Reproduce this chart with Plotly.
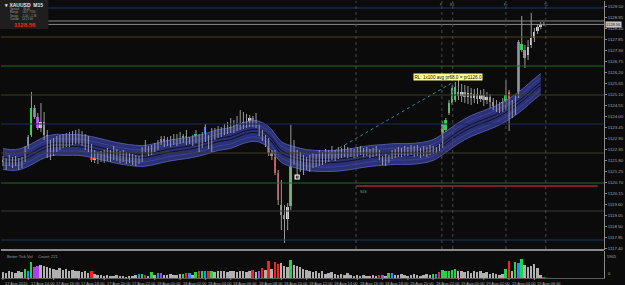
import plotly.graph_objects as go

# ---------------- data ----------------
bar_open = [1121.80,1121.70,1121.60,1121.80,1121.65,1121.75,1121.55,1121.80,1122.45,1123.05,
            1124.40,1123.95,1123.40,1123.70,1123.05,1122.55,1122.30,1122.70,1122.50,1122.80,
            1122.65,1122.90,1122.70,1122.95,1122.80,1123.00,1122.85,1122.65,1122.50,1121.80,
            1122.00,1121.85,1122.05,1121.90,1122.10,1121.95,1122.15,1122.00,1121.90,1122.05,
            1121.85,1121.95,1121.80,1121.90,1121.75,1122.50,1122.30,1122.15,1122.45,1122.40,
            1122.65,1122.85,1122.65,1122.80,1122.70,1122.85,1122.75,1122.80,1123.00,1122.70,
            1122.85,1122.75,1123.00,1122.50,1122.80,1122.95,1122.30,1123.20,1123.05,1123.25,
            1123.15,1123.35,1123.25,1123.45,1123.35,1123.60,1123.45,1123.70,1123.55,1123.90,
            1123.55,1123.50,1123.15,1122.85,1122.80,1122.15,1121.95,1121.15,1119.55,1119.05,
            1118.85,1119.50,1122.35,1121.90,1121.55,1121.80,1121.45,1121.70,1121.55,1121.80,
            1121.65,1121.90,1121.75,1122.00,1121.90,1122.10,1121.95,1122.15,1122.05,1122.25,
            1122.10,1122.20,1122.05,1122.15,1122.25,1122.10,1122.20,1122.05,1122.15,1122.25,
            1121.90,1121.70,1121.75,1121.95,1122.20,1122.05,1122.20,1122.10,1122.25,1122.15,
            1122.30,1122.15,1122.25,1122.10,1122.25,1122.15,1122.20,1122.30,1122.50,1122.55,
            1123.30,1124.15,1124.65,1124.80,1125.20,1125.00,1125.20,1124.95,1125.15,1124.90,
            1125.10,1124.85,1125.05,1124.80,1124.95,1124.70,1124.50,1124.30,1124.50,1124.65,
            1125.20,1124.30,1124.15,1125.00,1127.30,1127.30,1127.05,1127.55,1127.90,1128.25,
            1128.45,1128.60]
bar_high = [1122.00,1121.90,1122.05,1121.95,1122.00,1121.90,1121.95,1122.50,1123.05,1125.20,
            1124.55,1124.15,1124.65,1124.20,1123.30,1122.80,1122.90,1123.00,1123.05,1123.10,
            1123.15,1123.20,1123.25,1123.30,1123.35,1123.25,1123.10,1123.00,1122.60,1122.30,
            1122.20,1122.25,1122.30,1122.40,1122.30,1122.50,1122.35,1122.25,1122.30,1122.20,
            1122.15,1122.10,1122.05,1122.00,1122.45,1122.80,1122.50,1122.55,1122.65,1122.80,
            1123.00,1123.00,1122.95,1123.00,1123.10,1123.10,1123.20,1123.10,1123.30,1122.95,
            1123.05,1123.30,1123.10,1123.20,1123.60,1123.05,1123.40,1123.40,1123.50,1123.45,
            1123.60,1123.70,1123.90,1123.80,1124.00,1124.30,1124.20,1124.10,1124.05,1124.00,
            1124.15,1123.60,1123.30,1123.05,1122.90,1122.30,1122.30,1121.30,1120.80,1119.55,
            1119.65,1123.55,1122.80,1122.30,1122.20,1122.05,1121.95,1122.05,1122.15,1122.10,
            1122.30,1122.20,1122.35,1122.30,1122.50,1122.30,1122.45,1122.40,1122.55,1122.45,
            1122.40,1122.35,1122.45,1122.50,1122.40,1122.45,1122.35,1122.40,1122.50,1122.30,
            1122.00,1122.10,1122.05,1122.30,1122.35,1122.45,1122.40,1122.50,1122.45,1122.55,
            1122.50,1122.55,1122.40,1122.50,1122.45,1122.55,1122.50,1122.45,1122.60,1123.75,
            1123.90,1124.80,1125.55,1125.70,1125.80,1125.60,1125.55,1125.50,1125.40,1125.35,
            1125.40,1125.30,1125.35,1125.20,1125.10,1124.90,1124.80,1124.70,1124.90,1125.80,
            1125.30,1124.80,1125.05,1127.80,1129.00,1127.55,1127.80,1129.15,1128.40,1128.60,
            1128.70,1128.70]
bar_low = [1121.50,1121.30,1121.50,1121.40,1121.50,1121.30,1121.40,1121.70,1122.35,1122.95,
           1123.85,1123.30,1123.20,1122.80,1121.90,1121.80,1122.00,1122.20,1122.30,1122.40,
           1122.45,1122.45,1122.55,1122.60,1122.60,1122.50,1122.30,1122.20,1121.70,1121.65,
           1121.60,1121.70,1121.65,1121.75,1121.70,1121.80,1121.75,1121.65,1121.70,1121.60,
           1121.65,1121.55,1121.50,1121.60,1121.70,1122.20,1122.00,1122.05,1122.20,1122.30,
           1122.55,1122.45,1122.50,1122.45,1122.55,1122.50,1122.60,1122.65,1122.55,1122.60,
           1122.50,1122.65,1122.20,1122.40,1122.70,1122.35,1122.20,1122.80,1122.90,1122.95,
           1123.05,1123.10,1123.15,1123.15,1123.25,1123.30,1123.35,1123.40,1123.45,1123.45,
           1123.40,1123.00,1122.75,1122.45,1122.00,1121.80,1121.05,1119.55,1118.30,1117.65,
           1118.30,1119.30,1121.55,1120.90,1121.20,1121.05,1121.30,1121.20,1121.40,1121.45,
           1121.50,1121.55,1121.65,1121.70,1121.80,1121.75,1121.85,1121.90,1121.95,1121.90,
           1121.95,1121.90,1121.95,1122.05,1121.95,1122.00,1121.90,1121.95,1122.00,1121.80,
           1121.55,1121.50,1121.65,1121.85,1121.90,1121.95,1121.95,1122.00,1122.00,1122.05,
           1121.95,1122.00,1121.90,1122.00,1121.95,1122.05,1122.10,1122.15,1122.25,1122.40,
           1123.20,1124.05,1124.55,1124.70,1124.80,1124.70,1124.65,1124.60,1124.55,1124.65,
           1124.60,1124.70,1124.50,1124.60,1124.40,1124.30,1124.20,1124.15,1124.20,1124.30,
           1123.25,1123.90,1124.05,1124.90,1127.20,1126.40,1126.80,1127.40,1127.70,1128.10,
           1128.35,1128.50]
bar_close = [1121.70,1121.60,1121.80,1121.65,1121.75,1121.55,1121.80,1122.40,1122.95,1124.40,
             1123.95,1123.40,1123.70,1123.05,1122.55,1122.30,1122.70,1122.50,1122.80,1122.65,
             1122.90,1122.70,1122.95,1122.80,1123.00,1122.85,1122.65,1122.50,1121.80,1122.00,
             1121.85,1122.05,1121.90,1122.10,1121.95,1122.15,1122.00,1121.90,1122.05,1121.85,
             1121.95,1121.80,1121.90,1121.75,1122.40,1122.30,1122.20,1122.45,1122.35,1122.65,
             1122.85,1122.65,1122.80,1122.70,1122.85,1122.75,1122.90,1123.00,1122.70,1122.85,
             1122.75,1123.10,1122.35,1123.00,1123.45,1122.45,1123.20,1123.05,1123.25,1123.15,
             1123.35,1123.25,1123.45,1123.35,1123.60,1123.45,1123.70,1123.55,1123.90,1123.55,
             1123.70,1123.15,1122.90,1122.70,1122.15,1122.00,1121.15,1119.80,1119.05,1118.85,
             1119.45,1122.35,1121.90,1121.55,1121.80,1121.45,1121.70,1121.55,1121.80,1121.65,
             1121.90,1121.75,1122.00,1121.90,1122.10,1121.95,1122.15,1122.05,1122.25,1122.10,
             1122.20,1122.05,1122.15,1122.25,1122.10,1122.20,1122.05,1122.15,1122.25,1121.90,
             1121.70,1121.85,1121.95,1122.20,1122.05,1122.20,1122.10,1122.25,1122.15,1122.30,
             1122.15,1122.25,1122.10,1122.25,1122.15,1122.30,1122.35,1122.40,1122.35,1123.60,
             1123.80,1124.65,1125.40,1125.45,1125.00,1125.20,1124.95,1125.15,1124.90,1125.10,
             1124.85,1125.05,1124.80,1124.95,1124.70,1124.50,1124.30,1124.50,1124.70,1125.05,
             1124.15,1124.60,1124.95,1127.70,1127.60,1126.90,1127.45,1127.90,1128.20,1128.45,
             1128.55,1128.56]
# g = green, r = red, b = blue, m = magenta, n = ordinary bar
bar_kind = ("nnnnnnngbg" "mmnnnnnnnn" "nnnnnnnnrn" "nnnnnnnnnn" "nnnbgrngnb"
            "mnnnnnngrb" "ngrgbrgnnn" "nnnnnnnnnr" "nmrnrnrrnn" "ngnnnnnnnn"
            "nnnnnnnnnn" "nnnnnnnnnr" "mngbnnnnnn" "nnnnnngbrg" "ggggnnnnnn"
            "nnnnnnnnng" "rngbgnnnnn" "nr")
tick_volume = [1220,1020,1430,1220,1020,1430,1220,2040,1630,3470,2450,2650,
               2860,2650,2450,2240,2040,1840,2240,1840,2040,1630,1840,1430,1630,1220,1430,1020,
               1430,
               820,610,610,410,610,410,410,610,410,410,200,410,410,610,
               820,820,610,410,1220,610,1020,1020,610,610,820,610,610,820,820,1020,1020,610,1220,1630,1630,1430,1630,1430,
               1220,1430,1630,1430,1220,1630,1430,1220,1630,1430,1220,1430,1840,1220,1630,2240,1840,
               3670,2040,3470,3060,3260,2650,2450,3880,2860,2650,2450,2040,1840,1430,1220,1630,
               1020,1430,820,1020,1220,820,610,820,610,1020,610,410,610,410,610,410,410,610,410,610,
               610,410,1020,1020,610,610,820,610,410,610,820,610,410,610,820,610,
               820,820,1220,1840,1430,1630,1840,2040,1430,
               1630,1220,1430,1020,1630,1220,1430,1020,1220,820,1020,820,610,820,
               2040,3670,1430,3470,3260,4080,2860,2450,2650,3060,2240,610,200]
volume_max = 5905
volume_label = "Better Tick Vol     Count: 221"

band_bars = [0,4,8,12,16,20,24,28,32,36,40,44,48,52,56,60,64,68,72,76,80,84,88,92,96,100,
             104,108,112,116,120,124,128,132,136,140,144,148,152,156,160,164,168,170]
band_mid = [1121.85,1121.80,1122.00,1122.35,1122.55,1122.55,1122.55,1122.45,1122.30,1122.15,
            1122.05,1122.00,1122.10,1122.25,1122.35,1122.45,1122.60,1122.80,1122.90,1123.15,
            1123.25,1122.95,1122.20,1121.95,1121.80,1121.75,1121.75,1121.80,1121.90,1122.00,
            1122.05,1122.10,1122.10,1122.15,1122.30,1122.70,1123.15,1123.50,1123.75,1124.00,
            1124.35,1124.80,1125.35,1125.60]
band_half = 0.52

level_prices = [1129.40,1128.75,1128.58,1127.95,1126.50,1125.05,1123.60,1122.15,1120.65,1119.25,1117.80]
level_colors = ['#1d3a66','#8a8a8a','#8a8a8a','#4d3d1c','#1f6e1f','#3c3c24','#1d2f5e','#3c3c24','#1f6e1f','#3c3c24','#1d3a66']
support_bars = [111.6, 188]
support_price = 1120.50
vline_bars = [111.6, 138.75, 142.2, 159.0, 171.6]
vline_names = ['', 'P', 'R1', 'Fr', 'TL']
trend_bars = [103.1, 141.9]
trend_prices = [1122.10, 1125.65]
trend_label = 'RL: 1x100 avg pr68.0 = pr1126.0'
marker_bar, marker_price = 93, 1120.95
current_price = 1128.56

panel_title = '▾ XAUUSD  M15'
panel_rows = ['Spread     36.00', 'Range     1427.7700', 'Swaps    -1.00 / -1.36', 'Candle    14:21:30']

time_label_bars = list(range(0, 172, 8))
time_labels = ["17 Aug 2015","17 Aug 14:00","17 Aug 16:00","17 Aug 18:00","17 Aug 20:00",
               "17 Aug 22:00","18 Aug 00:00","18 Aug 02:00","18 Aug 04:00","18 Aug 06:00",
               "18 Aug 08:00","18 Aug 10:00","18 Aug 12:00","18 Aug 14:00","18 Aug 16:00",
               "18 Aug 18:00","18 Aug 20:00","18 Aug 22:00","19 Aug 00:00","19 Aug 02:00",
               "19 Aug 04:00","19 Aug 06:00"]

n = len(bar_close)
assert len(bar_open) == n and len(bar_high) == n and len(bar_low) == n
assert len(bar_kind) == n and len(tick_volume) == n
assert len(time_labels) == len(time_label_bars)

# ---------------- styling / layout helpers ----------------
BG = '#0b0b0b'
FONT = 'Liberation Sans'
NARROW = 'Liberation Sans Narrow, Liberation Sans'
kind_color = {'g': '#1fd64a', 'r': '#ff1c1c', 'b': '#1e90ff', 'm': '#b040ee'}
W, H, ML, MR, MT, MB = 625, 285, 1, 14, 1, 7
plot_h = H - MT - MB
def py(pixel):  # pixel row -> paper fraction
    return (H - MB - pixel) / plot_h
main_dom = [py(249), 1]
vol_dom = [0, py(251)]

idx = list(range(n))
body_colors, vol_colors, base, height = [], [], [], []
for o, c, k in zip(bar_open, bar_close, bar_kind):
    if k in kind_color:
        body_colors.append(kind_color[k]); vol_colors.append(kind_color[k])
    else:
        body_colors.append('#d8d8d8' if c >= o else '#909090'); vol_colors.append('#b0b0b0')
    base.append(min(o, c))
    height.append(max(abs(c - o), 0.035))

fig = go.Figure()

# ribbon band
upper = [m + band_half for m in band_mid]
lower = [m - band_half for m in band_mid]
fig.add_trace(go.Scatter(x=band_bars, y=lower, mode='lines', line=dict(color='#4e56a8', width=1, shape='spline'),
                         hoverinfo='skip'))
fig.add_trace(go.Scatter(x=band_bars, y=upper, mode='lines', line=dict(color='#4e56a8', width=1, shape='spline'),
                         fill='tonexty', fillcolor='#2b3173', hoverinfo='skip'))
for off, col in [(0.30, '#3a42a0'), (-0.30, '#3a42a0'), (0.08, '#0e0e2c'), (-0.08, '#0e0e2c')]:
    fig.add_trace(go.Scatter(x=band_bars, y=[m + off for m in band_mid], mode='lines',
                             line=dict(color=col, width=1, shape='spline'), hoverinfo='skip'))

# trend line
fig.add_trace(go.Scatter(x=trend_bars, y=trend_prices, mode='lines',
                         line=dict(color='#2c8797', width=1, dash='dot'), hoverinfo='skip'))

# wicks
wx, wy = [], []
for i, h, l in zip(idx, bar_high, bar_low):
    wx += [i, i, None]; wy += [l, h, None]
fig.add_trace(go.Scatter(x=wx, y=wy, mode='lines', line=dict(color='#9a9a9a', width=1), hoverinfo='skip'))

# bodies
fig.add_trace(go.Bar(x=idx, y=height, base=base, width=0.62, marker=dict(color=body_colors, line=dict(width=0))))

# marker
fig.add_trace(go.Scatter(x=[marker_bar], y=[marker_price], mode='markers',
                         marker=dict(symbol='square-open', size=4, color='white', line=dict(width=1.2, color='white'))))

# volume
fig.add_trace(go.Bar(x=idx, y=tick_volume, width=0.62, marker=dict(color=vol_colors, line=dict(width=0)),
                     xaxis='x2', yaxis='y2'))

shapes = []
for p, c in zip(level_prices, level_colors):
    shapes.append(dict(type='line', xref='paper', x0=0, x1=1, yref='y', y0=p, y1=p, line=dict(color=c, width=1)))
shapes.append(dict(type='line', xref='x', x0=support_bars[0], x1=support_bars[1], yref='y', y0=support_price,
                   y1=support_price, line=dict(color='#a02a2a', width=1.5)))
for v in vline_bars:
    shapes.append(dict(type='line', xref='x', x0=v, x1=v, yref='paper', y0=main_dom[0], y1=1,
                       line=dict(color='#4a4a4a', width=1, dash='dot')))
shapes.append(dict(type='line', xref='paper', x0=0, x1=1, yref='paper', y0=py(250.5), y1=py(250.5),
                   line=dict(color='#8a8a8a', width=1)))
shapes.append(dict(type='rect', xref='paper', x0=-0.002, x1=(49 - ML) / (W - ML - MR), yref='paper',
                   y0=py(29), y1=py(0), fillcolor='#1e1e1e', line=dict(width=0), layer='above'))
for b in time_label_bars:
    shapes.append(dict(type='line', xref='x', x0=b, x1=b, yref='paper', y0=0, y1=py(280),
                       line=dict(color='#888888', width=1)))

ann = []
for b, t in zip(time_label_bars, time_labels):
    ann.append(dict(x=b, xref='x', y=py(278.5), yref='paper', text=t, showarrow=False, xanchor='left',
                    yanchor='top', font=dict(size=4, color='#a8a8a8', family=NARROW), xshift=0.5))
ann.append(dict(x=0.002, xref='paper', y=py(0.5), yref='paper', text='<b>%s</b>' % panel_title, showarrow=False,
                xanchor='left', yanchor='top', font=dict(size=5, color='#e8e8e8', family=FONT)))
for k, row in enumerate(panel_rows):
    ann.append(dict(x=0.012, xref='paper', y=py(9 + 3.4 * k), yref='paper', text=row, showarrow=False,
                    xanchor='left', yanchor='middle', font=dict(size=2.8, color='#9a9a9a', family=FONT)))
ann += [
    dict(x=0.04, xref='paper', y=py(25), yref='paper', text='<b>%.2f</b>' % current_price, showarrow=False,
         xanchor='center', yanchor='middle', font=dict(size=6, color='#ff2020', family=FONT)),
    dict(x=1.0, xref='paper', y=current_price, yref='y', text='%.2f' % current_price, showarrow=False,
         xanchor='left', yanchor='middle', bgcolor='#c8c8c8', borderpad=0, xshift=1,
         font=dict(size=4, color='#111111', family=FONT)),
    dict(x=trend_bars[1] - 12.3, xref='x', y=1125.93, yref='y', text=trend_label,
         showarrow=False, xanchor='left', yanchor='middle', bgcolor='#ffff99', borderpad=0.5,
         font=dict(size=4.6, color='#111111', family=FONT)),
    dict(x=support_bars[0] + 0.5, xref='x', y=support_price - 0.12, yref='y', text='S1S', showarrow=False,
         xanchor='left', yanchor='top', font=dict(size=3.5, color='#9a9a9a', family=FONT)),
    dict(x=0.006, xref='paper', y=vol_dom[1] - 0.004, yref='paper', text=volume_label, showarrow=False,
         xanchor='left', yanchor='top', font=dict(size=4, color='#9a9a9a', family=FONT)),
    dict(x=1.0, xref='paper', y=vol_dom[1] - 0.002, yref='paper', text=str(volume_max), showarrow=False,
         xanchor='left', yanchor='top', xshift=1, font=dict(size=4, color='#a8a8a8', family=FONT)),
    dict(x=1.0, xref='paper', y=0, yref='paper', text='0', showarrow=False,
         xanchor='left', yanchor='bottom', xshift=2, font=dict(size=4, color='#a8a8a8', family=FONT)),
]
for v, t in zip(vline_bars, vline_names):
    if t:
        ann.append(dict(x=v, xref='x', y=1.0, yref='paper', text=t, showarrow=False, xanchor='center',
                        yanchor='top', font=dict(size=3.5, color='#8a8a8a', family=FONT)))

fig.update_layout(
    width=W, height=H, margin=dict(l=ML, r=MR, t=MT, b=MB),
    paper_bgcolor=BG, plot_bgcolor=BG, showlegend=False, barmode='overlay', bargap=0,
    font=dict(family=FONT, color='#a8a8a8', size=5),
    xaxis=dict(range=[-0.625, 190], showgrid=False, zeroline=False, showticklabels=False,
               showline=True, linecolor='#8a8a8a', linewidth=1, anchor='y'),
    xaxis2=dict(range=[-0.625, 190], showgrid=False, zeroline=False, showticklabels=False,
                matches='x', anchor='y2', showline=True, linecolor='#5a5a5a'),
    yaxis=dict(domain=main_dom, range=[1117.35, 1129.75], side='right', showgrid=False, zeroline=False,
               tick0=1129.50, dtick=0.55, tickformat='.2f', ticks='outside', ticklen=2, tickcolor='#8a8a8a',
               tickfont=dict(size=4.3, color='#a8a8a8'), showline=True, linecolor='#8a8a8a', linewidth=1),
    yaxis2=dict(domain=vol_dom, range=[0, volume_max], side='right', showgrid=False, zeroline=False,
                showticklabels=False, showline=True, linecolor='#8a8a8a', linewidth=1),
    shapes=shapes, annotations=ann,
)

fig.write_html("out.html")
